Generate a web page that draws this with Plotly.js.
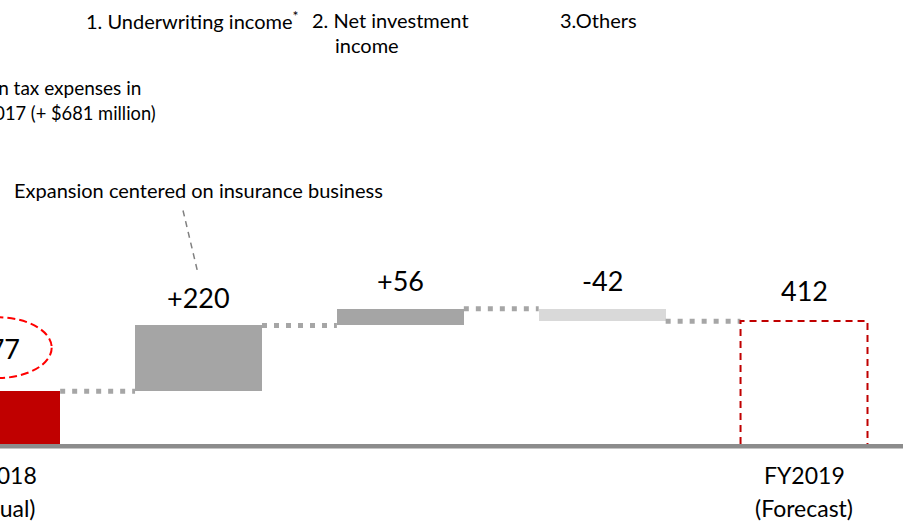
<!DOCTYPE html>
<html>
<head>
<meta charset="utf-8">
<script src="https://cdn.plot.ly/plotly-3.0.1.min.js"></script>
<style>
  html, body { margin: 0; padding: 0; background: #ffffff; }
  #chart { width: 903px; height: 526px; }
</style>
</head>
<body>
<div id="chart"></div>
<script>
// ---- Data ----
const steps       = ['FY2018 (Actual)', 'Underwriting income', 'Net investment income', 'Others', 'FY2019 (Forecast)'];
const values      = [177, 220, 56, -42, 412];
const measures    = ['absolute', 'relative', 'relative', 'relative', 'total'];
const valueLabels = ['177', '+220', '+56', '-42', '412'];
const tickLine1   = ['FY2018', '', '', '', 'FY2019'];
const tickLine2   = ['(Actual)', '', '', '', '(Forecast)'];
const headerLine1 = ['', '1. Underwriting income<sup>*</sup>', '2. Net investment', '3.Others', ''];
const headerLine2 = ['', '', 'income', '', ''];
const noteLines   = ['Reduction in tax expenses in', 'FY2017 (+ $681 million)'];
const calloutText = 'Expansion centered on insurance business';

// ---- Styles ----
const FONT = 'Lato, "Open Sans", sans-serif';
const RED = '#C00000';
const barColors = [RED, '#A5A5A5', '#A5A5A5', '#D9D9D9', 'rgba(0,0,0,0)'];
const BAR_W = 0.629;
const X_RANGE = [0.0164, 4.4904];
const TEXT = 20;

// category index -> paper fraction (via the x axis range), so labels near the
// clipped left edge are still drawn
const toPaper = i => (i - X_RANGE[0]) / (X_RANGE[1] - X_RANGE[0]);

// ---- Build waterfall geometry from data ----
const idx = steps.map((_, i) => i);
const bases = [], heights = [], tops = [], levels = [];
let running = 0;
values.forEach((v, i) => {
  const m = measures[i];
  if (m === 'absolute' || m === 'total') {
    bases.push(0); heights.push(v);
    if (m === 'absolute') running = v;
    tops.push(v);
    levels.push(running);
  } else {
    const b = v >= 0 ? running : running + v;
    bases.push(b); heights.push(Math.abs(v));
    tops.push(b + Math.abs(v));
    running += v;
    levels.push(running);
  }
});

const traces = [{
  type: 'bar',
  x: idx,
  y: heights,
  base: bases,
  width: BAR_W,
  marker: { color: barColors, line: { width: 0 } },
  hoverinfo: 'skip',
  showlegend: false
}];

const shapes = [];
// connectors between bars
for (let i = 0; i < idx.length - 1; i++) {
  shapes.push({
    type: 'line', xref: 'x', yref: 'y', layer: 'above',
    x0: idx[i] + BAR_W / 2, x1: idx[i + 1] - BAR_W / 2,
    y0: levels[i], y1: levels[i],
    line: { color: '#A6A6A6', width: 5, dash: '5px,7px' }
  });
}
// dashed outline for the forecast bar (total)
const last = idx.length - 1;
const lx0 = idx[last] - BAR_W / 2, lx1 = idx[last] + BAR_W / 2;
shapes.push({
  type: 'path', xref: 'x', yref: 'y', layer: 'above',
  path: `M ${lx0},0 L ${lx0},${values[last]} L ${lx1},${values[last]} L ${lx1},0`,
  line: { color: RED, width: 2, dash: '7px,5px' }
});
// dashed ellipse around the first value label
shapes.push({
  type: 'circle', xref: 'paper', yref: 'y', xsizemode: 'pixel', ysizemode: 'pixel',
  xanchor: toPaper(idx[0]), yanchor: tops[0], x0: -55, x1: 55, y0: 13, y1: 74,
  line: { color: '#FF0000', width: 2, dash: '8px,4px' }
});
// leader line from callout to the +220 bar label
shapes.push({
  type: 'line', xref: 'x', yref: 'y', xsizemode: 'pixel', ysizemode: 'pixel',
  xanchor: idx[1], yanchor: tops[1], x0: -15.5, y0: 115, x1: -0.5, y1: 52,
  line: { color: '#808080', width: 1.5, dash: '6px,5px' }
});
// baseline
shapes.push({
  type: 'rect', xref: 'paper', yref: 'paper', ysizemode: 'pixel', yanchor: 0,
  x0: 0, x1: 1, y0: -4.5, y1: 0, fillcolor: '#8C8C8C', line: { width: 0 }, layer: 'above'
});

const annotations = [];
const blk = size => ({ family: FONT, size: size, color: '#000000' });
// value labels
idx.forEach(i => {
  const shift = i === 0 ? 43 : (measures[i] === 'total' ? 31 : 28);
  annotations.push({
    x: toPaper(i), y: tops[i], xref: 'paper', yref: 'y', text: valueLabels[i], showarrow: false,
    xanchor: 'center', yanchor: 'middle', yshift: shift, font: blk(27)
  });
});
// category labels under the axis (two lines)
idx.forEach(i => {
  if (tickLine1[i]) annotations.push({
    x: toPaper(i), y: 0, xref: 'paper', yref: 'paper', text: tickLine1[i], showarrow: false,
    xanchor: 'center', yanchor: 'middle', yshift: -31, font: blk(23)
  });
  if (tickLine2[i]) annotations.push({
    x: toPaper(i), y: 0, xref: 'paper', yref: 'paper', text: tickLine2[i], showarrow: false,
    xanchor: 'center', yanchor: 'middle', yshift: -64, font: blk(23)
  });
});
// header labels at the top
const headerStyle = [null,
  { xanchor: 'center', xshift: -6 },
  { xanchor: 'left', xshift: -90 },
  { xanchor: 'center', xshift: -4 },
  null];
idx.forEach(i => {
  if (headerLine1[i]) annotations.push(Object.assign({
    x: toPaper(i), y: 1, xref: 'paper', yref: 'paper', text: headerLine1[i], showarrow: false,
    yanchor: 'middle', yshift: -20, font: blk(TEXT)
  }, headerStyle[i]));
  if (headerLine2[i]) annotations.push({
    x: toPaper(i), y: 1, xref: 'paper', yref: 'paper', text: headerLine2[i], showarrow: false,
    xanchor: 'left', xshift: -67, yanchor: 'middle', yshift: -45, font: blk(TEXT)
  });
});
// note about tax expenses (partly cut off at the left edge, as in the reference)
annotations.push({
  x: toPaper(idx[0]), y: 1, xref: 'paper', yref: 'paper', text: noteLines[0], showarrow: false,
  xanchor: 'right', xshift: 146, yanchor: 'middle', yshift: -87, font: blk(19)
});
annotations.push({
  x: toPaper(idx[0]), y: 1, xref: 'paper', yref: 'paper', text: noteLines[1], showarrow: false,
  xanchor: 'right', xshift: 161, yanchor: 'middle', yshift: -113, font: blk(18.3)
});
// callout above the underwriting bar
annotations.push({
  x: toPaper(idx[1]), y: 1, xref: 'paper', yref: 'paper', text: calloutText, showarrow: false,
  xanchor: 'center', yanchor: 'middle', yshift: -190, font: blk(TEXT)
});

const layout = {
  width: 903, height: 526,
  margin: { l: 0, r: 0, t: 0, b: 82, pad: 0 },
  paper_bgcolor: '#ffffff', plot_bgcolor: '#ffffff',
  showlegend: false,
  xaxis: { range: X_RANGE, visible: false, fixedrange: true },
  yaxis: { range: [0, 1487.4], visible: false, fixedrange: true },
  shapes: shapes,
  annotations: annotations,
  bargap: 0
};

Plotly.newPlot('chart', traces, layout, { displayModeBar: false, staticPlot: true });
</script>
</body>
</html>
